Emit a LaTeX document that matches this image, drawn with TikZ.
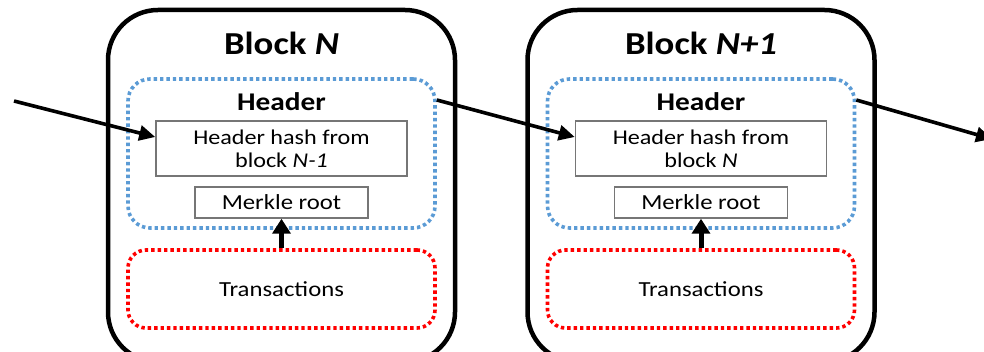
\documentclass[tikz,border=0pt]{standalone}
\usepackage{fontspec}
\setmainfont[FakeStretch=1.15]{Carlito}
\usetikzlibrary{arrows.meta}
\definecolor{hdrblue}{HTML}{5B9BD5}
\definecolor{txred}{HTML}{FF0000}
\definecolor{boxgray}{HTML}{767676}
\begin{document}
\begin{tikzpicture}[x=1pt,y=-1pt,
  blockbox/.style={draw=black,line width=4.5pt,rounded corners=50pt,inner sep=0pt,minimum width=347pt,minimum height=352pt},
  hdrbox/.style={draw=hdrblue,line width=3.6pt,dash pattern=on 3.4pt off 3pt,rounded corners=22pt,inner sep=0pt,minimum width=307pt,minimum height=149pt},
  txbox/.style={draw=txred,line width=3.6pt,dash pattern=on 3.4pt off 3pt,rounded corners=18pt,inner sep=0pt,minimum width=307pt,minimum height=78pt,font=\fontsize{21.5}{24}\selectfont},
  hashbox/.style={draw=boxgray,line width=1.5pt,inner sep=0pt,minimum width=251pt,minimum height=55pt,align=center,font=\fontsize{21}{23}\selectfont},
  merklebox/.style={draw=boxgray,line width=1.5pt,inner sep=0pt,minimum width=173pt,minimum height=31pt,font=\fontsize{21.5}{24}\selectfont},
  titletext/.style={font=\fontsize{32}{34}\selectfont\bfseries,inner sep=0pt},
  hdrtext/.style={font=\fontsize{25.5}{28}\selectfont\bfseries,inner sep=0pt},
  linkarrow/.style={draw=black,line width=3.6pt,-{Triangle[length=16pt,width=15pt]}},
  uparrow/.style={draw=black,line width=5pt,-{Triangle[length=15pt,width=18pt]}}
]
\useasboundingbox (0,0) rectangle (984,352);
% Block N
\node[blockbox] (blkA) at (281.5,186) {};
\node[titletext] (titleA) at (281.5,43) {Block \textit{N}};
\node[hdrbox] (hdrA) at (281.5,153.5) {};
\node[hdrtext] (hdrlabA) at (281.5,102) {Header};
\node[hashbox] (hashA) at (281.5,148.5) {Header hash from\\block \textit{N-1}};
\node[merklebox] (merkA) at (281.5,202.5) {Merkle root};
\node[txbox] (txA) at (281.5,289) {Transactions};
% Block N+1
\node[blockbox] (blkB) at (701,186) {};
\node[titletext] (titleB) at (701,43) {Block \textit{N+1}};
\node[hdrbox] (hdrB) at (701,153.5) {};
\node[hdrtext] (hdrlabB) at (701,102) {Header};
\node[hashbox] (hashB) at (701,148.5) {Header hash from\\block \textit{N}};
\node[merklebox] (merkB) at (701,202.5) {Merkle root};
\node[txbox] (txB) at (701,289) {Transactions};
% arrows
\coordinate (inpt) at (14,101);
\coordinate (outpt) at (992,139);
\draw[linkarrow] (inpt) -- ([yshift=11.5pt]hashA.west);
\draw[linkarrow] ([yshift=53.5pt]hdrA.east) -- ([yshift=11.5pt]hashB.west);
\draw[linkarrow] ([yshift=53.5pt]hdrB.east) -- (outpt);
\draw[uparrow] (txA.north) -- (merkA.south);
\draw[uparrow] (txB.north) -- (merkB.south);
\end{tikzpicture}
\end{document}
